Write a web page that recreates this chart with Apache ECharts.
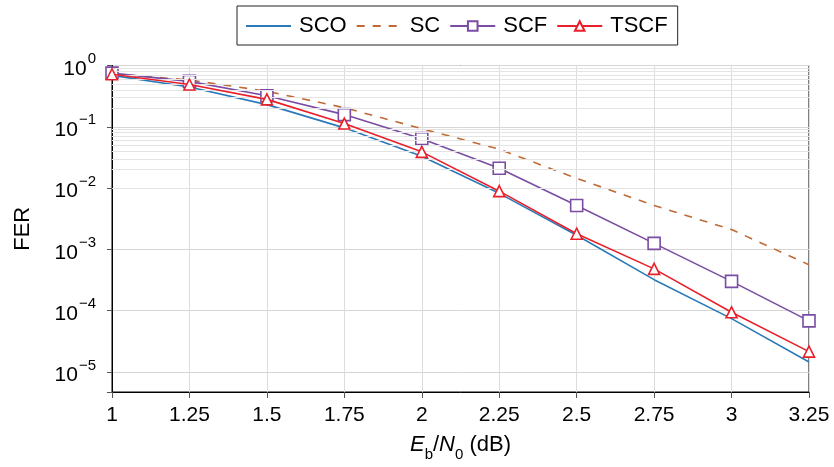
<!DOCTYPE html>
<html>
<head>
<meta charset="utf-8">
<script src="https://cdn.jsdelivr.net/npm/echarts@6/dist/echarts.min.js"></script>
<style>
html,body{margin:0;padding:0;background:#fff;}
#chart{width:834px;height:467px;}
</style>
</head>
<body>
<div id="chart"></div>
<script>
// ---- data ----
const ebn0 = [1, 1.25, 1.5, 1.75, 2, 2.25, 2.5, 2.75, 3, 3.25];
const seriesNames = ['SCO', 'SC', 'SCF', 'TSCF'];
const ferSCO  = [0.69, 0.445, 0.23, 0.096, 0.033, 0.0082, 0.0017, 0.00032, 7.4e-5, 1.45e-5];
const ferSC   = [0.73, 0.58, 0.38, 0.205, 0.093, 0.043, 0.0144, 0.0052, 0.0021, 5.6e-4];
const ferSCF  = [0.75, 0.55, 0.32, 0.158, 0.064, 0.021, 0.0052, 0.00125, 0.0003, 6.8e-5];
const ferTSCF = [0.72, 0.49, 0.28, 0.113, 0.039, 0.0089, 0.0018, 0.00048, 9.4e-5, 2.14e-5];
const yMin = 4.7e-6, yMax = 1;

// ---- helpers ----
const FONT = "'Liberation Sans', Arial, Helvetica, sans-serif";
function pairs(ys) { return ebn0.map((x, i) => [x, ys[i]]); }
const minorVals = [];
for (let k = -6; k <= -1; k++) {
  for (let m = 2; m <= 9; m++) {
    const v = m * Math.pow(10, k);
    if (v > yMin && v < yMax) minorVals.push({ yAxis: v });
  }
}
const colors = { SCO: '#2a7ab8', SC: '#c06a35', SCF: '#7a4ca4', TSCF: '#e8202a' };
const hidden = { color: 'rgba(0,0,0,0)', borderColor: 'rgba(0,0,0,0)', borderWidth: 0 };

const chart = echarts.init(document.getElementById('chart'), null, { renderer: 'canvas' });
chart.setOption({
  animation: false,
  backgroundColor: '#fff',
  textStyle: { fontFamily: FONT },
  grid: { left: 112, right: 25, top: 65.5, bottom: 72.5, show: true, borderColor: '#000', borderWidth: 1, backgroundColor: 'transparent' },
  legend: {
    data: [
      { name: 'SCO', itemStyle: hidden },
      { name: 'SC', itemStyle: hidden },
      { name: 'SCF' },
      { name: 'TSCF' }
    ],
    left: 237, top: 6,
    padding: [9, 10, 8, 8],
    itemGap: 9,
    itemWidth: 45, itemHeight: 12,
    borderColor: '#222', borderWidth: 1, borderRadius: 0,
    textStyle: { fontSize: 22, color: '#000', fontFamily: FONT, padding: [0, 0, 0, 3] }
  },
  xAxis: {
    type: 'value', min: 1, max: 3.25, interval: 0.25,
    name: '{i|E}{sub|b}{n|/}{i|N}{sub|0}{n| (dB)}',
    nameLocation: 'middle', nameGap: 42,
    nameTextStyle: {
      rich: {
        i: { fontSize: 22, fontStyle: 'italic', color: '#000', fontFamily: FONT, verticalAlign: 'top', lineHeight: 28 },
        n: { fontSize: 22, color: '#000', fontFamily: FONT, verticalAlign: 'top', lineHeight: 28 },
        sub: { fontSize: 15, color: '#000', fontFamily: FONT, verticalAlign: 'bottom', lineHeight: 28 }
      }
    },
    axisLine: { show: true, lineStyle: { color: '#000', width: 1 } },
    axisTick: { show: true, inside: false, length: 6, lineStyle: { color: '#555' } },
    axisLabel: { fontSize: 21, color: '#000', margin: 13, fontFamily: FONT },
    splitLine: { show: true, lineStyle: { color: '#dcdcdc', width: 1 } }
  },
  yAxis: {
    type: 'log', logBase: 10, min: yMin, max: yMax,
    name: 'FER', nameLocation: 'middle', nameGap: 78,
    nameTextStyle: { fontSize: 22, color: '#000', fontFamily: FONT },
    axisLine: { show: true, lineStyle: { color: '#000', width: 1 } },
    axisTick: { show: true, length: 5, lineStyle: { color: '#555' } },
    axisLabel: {
      margin: 16, color: '#000',
      formatter: function (v) {
        const l = Math.log10(v), e = Math.round(l);
        if (Math.abs(l - e) > 1e-6) return '';
        return '{b|10}{s|' + (e === 0 ? '0' : '\u2212' + (-e)) + '}';
      },
      rich: {
        b: { fontSize: 21, color: '#000', fontFamily: FONT, verticalAlign: 'bottom', lineHeight: 28 },
        s: { fontSize: 15, color: '#000', fontFamily: FONT, verticalAlign: 'top', lineHeight: 28, padding: [0, 0, 0, 1] }
      }
    },
    splitLine: { show: true, lineStyle: { color: '#d6d6d6', width: 1 } }
  },
  series: [
    {
      name: '', type: 'line', data: [], z: 1, silent: true,
      markLine: {
        silent: true, symbol: ['none', 'none'], animation: false,
        label: { show: false },
        lineStyle: { type: 'solid', color: '#e4e4e4', width: 1 },
        emphasis: { disabled: true },
        data: minorVals
      }
    },
    {
      name: 'SCO', type: 'line', data: pairs(ferSCO), z: 3,
      showSymbol: false, symbol: 'none',
      lineStyle: { color: colors.SCO, width: 1.6 }, itemStyle: { color: colors.SCO }
    },
    {
      name: 'SC', type: 'line', data: pairs(ferSC), z: 3,
      showSymbol: false, symbol: 'none',
      lineStyle: { color: colors.SC, width: 1.6, type: [8, 8] }, itemStyle: { color: colors.SC }
    },
    {
      name: 'SCF', type: 'line', data: pairs(ferSCF), z: 4,
      symbol: 'rect', symbolSize: 12,
      lineStyle: { color: colors.SCF, width: 1.6 },
      itemStyle: { color: '#fff', borderColor: colors.SCF, borderWidth: 1.6 }
    },
    {
      name: 'TSCF', type: 'line', data: pairs(ferTSCF), z: 5,
      symbol: 'triangle', symbolSize: 11,
      lineStyle: { color: colors.TSCF, width: 1.6 },
      itemStyle: { color: '#fff', borderColor: colors.TSCF, borderWidth: 1.6 }
    }
  ]
});
</script>
</body>
</html>
